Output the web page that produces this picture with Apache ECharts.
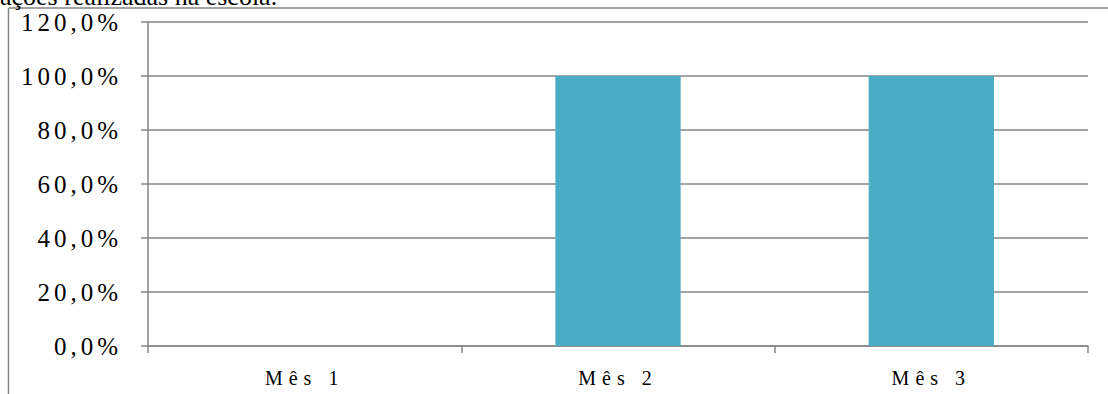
<!DOCTYPE html>
<html>
<head>
<meta charset="utf-8">
<script src="https://cdn.jsdelivr.net/npm/echarts@6/dist/echarts.min.js"></script>
<style>
  html, body { margin: 0; padding: 0; background: #fff; }
  #chart { width: 1108px; height: 394px; }
  /* spaced-out axis lettering */
  #chart text[style*="25px"] { letter-spacing: 4px; }
  #chart text[style*="20px"] { letter-spacing: 6px; }
</style>
</head>
<body>
<div id="chart"></div>
<script>
// Monthly share of actions carried out at school
const categories = ['Mês 1', 'Mês 2', 'Mês 3'];
const values = [0, 100, 100];          // percent
const yMin = 0, yMax = 120, yStep = 20;

const gridColor = '#868686';
const barColor = '#4BACC6';
const serif = "'Liberation Serif', 'Times New Roman', serif";

const fmtPct = v => v.toFixed(1).replace('.', ',') + '%';

const chart = echarts.init(document.getElementById('chart'), null, { renderer: 'svg' });
chart.setOption({
  animation: false,
  backgroundColor: '#fff',
  grid: { left: 148, right: 20, top: 22, bottom: 48, containLabel: false },
  xAxis: {
    type: 'category',
    data: categories,
    boundaryGap: true,
    axisLine: { show: true, lineStyle: { color: gridColor, width: 1.5 } },
    axisTick: { show: true, length: 7, alignWithLabel: false, lineStyle: { color: gridColor, width: 1.5 } },
    axisLabel: { color: '#000', fontFamily: serif, fontSize: 20, margin: 22 },
    splitLine: { show: false }
  },
  yAxis: {
    type: 'value',
    min: yMin, max: yMax, interval: yStep,
    axisLine: { show: true, lineStyle: { color: gridColor, width: 1.5 } },
    axisTick: { show: true, length: 7, lineStyle: { color: gridColor, width: 1.5 } },
    axisLabel: { color: '#000', fontFamily: serif, fontSize: 25, margin: 26, formatter: fmtPct },
    splitLine: { show: true, lineStyle: { color: gridColor, width: 1.5 } }
  },
  series: [{
    type: 'bar',
    data: values,
    barWidth: '40%',
    itemStyle: { color: barColor }
  }],
  graphic: [
    { type: 'line', silent: true, shape: { x1: 8.5, y1: 8, x2: 1108, y2: 8 }, style: { stroke: gridColor, lineWidth: 1.5 } },
    { type: 'line', silent: true, shape: { x1: 8.5, y1: 8, x2: 8.5, y2: 394 }, style: { stroke: gridColor, lineWidth: 1.5 } },
    { type: 'text', silent: true, left: 0, top: -17,
      style: { text: 'ações realizadas na escola.', font: '26px ' + serif, fill: '#000' } }
  ]
});
</script>
</body>
</html>
